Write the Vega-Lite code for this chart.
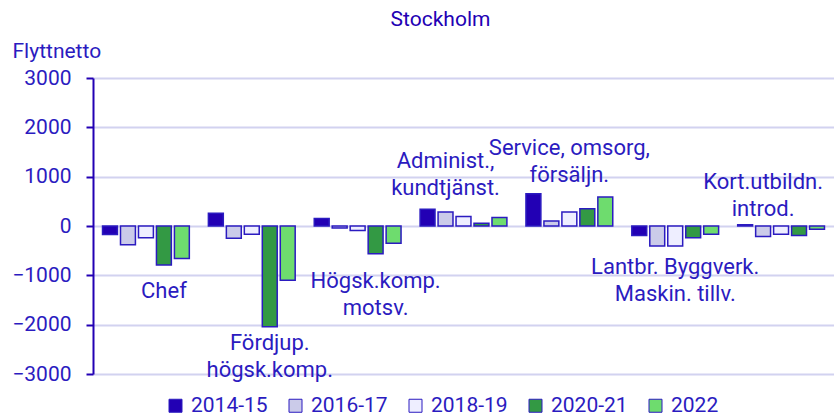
{
  "$schema": "https://vega.github.io/schema/vega-lite/v6.json",
  "width": 741,
  "height": 296,
  "autosize": {"type": "none"},
  "padding": {"left": 93, "top": 78, "right": 0, "bottom": 42},
  "background": "white",
  "config": {"view": {"stroke": null}, "font": "Roboto"},
  "title": {"text": "Stockholm", "font": "Roboto", "fontSize": 21, "fontWeight": "normal", "color": "#2200b4", "anchor": "middle", "dx": -23, "offset": 10},
  "datasets": {
    "bars": [
      {"cat": "Chef", "period": "2014-15", "value": -170},
      {"cat": "Chef", "period": "2016-17", "value": -380},
      {"cat": "Chef", "period": "2018-19", "value": -240},
      {"cat": "Chef", "period": "2020-21", "value": -790},
      {"cat": "Chef", "period": "2022", "value": -660},
      {"cat": "Fördjup. högsk.komp.", "period": "2014-15", "value": 260},
      {"cat": "Fördjup. högsk.komp.", "period": "2016-17", "value": -250},
      {"cat": "Fördjup. högsk.komp.", "period": "2018-19", "value": -165},
      {"cat": "Fördjup. högsk.komp.", "period": "2020-21", "value": -2040},
      {"cat": "Fördjup. högsk.komp.", "period": "2022", "value": -1100},
      {"cat": "Högsk.komp. motsv.", "period": "2014-15", "value": 150},
      {"cat": "Högsk.komp. motsv.", "period": "2016-17", "value": -40},
      {"cat": "Högsk.komp. motsv.", "period": "2018-19", "value": -90},
      {"cat": "Högsk.komp. motsv.", "period": "2020-21", "value": -560},
      {"cat": "Högsk.komp. motsv.", "period": "2022", "value": -350},
      {"cat": "Administ., kundtjänst.", "period": "2014-15", "value": 340},
      {"cat": "Administ., kundtjänst.", "period": "2016-17", "value": 285},
      {"cat": "Administ., kundtjänst.", "period": "2018-19", "value": 195},
      {"cat": "Administ., kundtjänst.", "period": "2020-21", "value": 55},
      {"cat": "Administ., kundtjänst.", "period": "2022", "value": 170},
      {"cat": "Service, omsorg, försäljn.", "period": "2014-15", "value": 655},
      {"cat": "Service, omsorg, försäljn.", "period": "2016-17", "value": 100},
      {"cat": "Service, omsorg, försäljn.", "period": "2018-19", "value": 285},
      {"cat": "Service, omsorg, försäljn.", "period": "2020-21", "value": 350},
      {"cat": "Service, omsorg, försäljn.", "period": "2022", "value": 590},
      {"cat": "Lantbr. Byggverk. Maskin. tillv.", "period": "2014-15", "value": -195},
      {"cat": "Lantbr. Byggverk. Maskin. tillv.", "period": "2016-17", "value": -405},
      {"cat": "Lantbr. Byggverk. Maskin. tillv.", "period": "2018-19", "value": -405},
      {"cat": "Lantbr. Byggverk. Maskin. tillv.", "period": "2020-21", "value": -240},
      {"cat": "Lantbr. Byggverk. Maskin. tillv.", "period": "2022", "value": -165},
      {"cat": "Kort.utbildn. introd.", "period": "2014-15", "value": 25},
      {"cat": "Kort.utbildn. introd.", "period": "2016-17", "value": -215},
      {"cat": "Kort.utbildn. introd.", "period": "2018-19", "value": -165},
      {"cat": "Kort.utbildn. introd.", "period": "2020-21", "value": -195},
      {"cat": "Kort.utbildn. introd.", "period": "2022", "value": -68}
    ],
    "labels": [
      {"cat": "Chef", "period": "2020-21", "value": -1318, "label": "Chef"},
      {"cat": "Fördjup. högsk.komp.", "period": "2020-21", "value": -2370, "label": "Fördjup.\nhögsk.komp."},
      {"cat": "Högsk.komp. motsv.", "period": "2020-21", "value": -1115, "label": "Högsk.komp.\nmotsv."},
      {"cat": "Administ., kundtjänst.", "period": "2016-17", "value": 1320, "label": "Administ.,\nkundtjänst."},
      {"cat": "Service, omsorg, försäljn.", "period": "2018-19", "value": 1575, "label": "Service, omsorg,\nförsäljn."},
      {"cat": "Lantbr. Byggverk. Maskin. tillv.", "period": "2018-19", "value": -840, "label": "Lantbr. Byggverk.\nMaskin. tillv."},
      {"cat": "Kort.utbildn. introd.", "period": "2016-17", "value": 895, "label": "Kort.utbildn.\nintrod."}
    ]
  },
  "layer": [
    {
      "data": {"name": "bars"},
      "mark": {"type": "bar", "stroke": "#2b1bc0", "strokeWidth": 1.5},
      "encoding": {
        "x": {"field": "cat", "type": "nominal", "sort": null, "scale": {"paddingInner": 0.18, "paddingOuter": 0.09}, "axis": null},
        "xOffset": {"field": "period", "type": "nominal", "sort": null, "scale": {"paddingInner": 0.17, "paddingOuter": 0}},
        "y": {
          "field": "value", "type": "quantitative",
          "scale": {"domain": [-3000, 3000], "nice": false},
          "axis": {
            "values": [-3000, -2000, -1000, 0, 1000, 2000, 3000],
            "format": "d",
            "grid": true, "gridColor": "#d2d2f0", "gridWidth": 2,
            "domainColor": "#2200b4", "domainWidth": 2,
            "tickColor": "#2200b4", "tickWidth": 2, "tickSize": 7,
            "labelFont": "Roboto", "labelFontSize": 21, "labelColor": "#2b1bc0", "labelPadding": 15,
            "title": "Flyttnetto", "titleAngle": 0, "titleAlign": "left", "titleBaseline": "alphabetic",
            "titleX": -81, "titleY": -21, "titleFont": "Roboto", "titleFontSize": 21, "titleFontWeight": "normal", "titleColor": "#2b1bc0"
          }
        },
        "color": {
          "field": "period", "type": "nominal", "sort": null,
          "scale": {"domain": ["2014-15", "2016-17", "2018-19", "2020-21", "2022"], "range": ["#2200b4", "#cbcbe9", "#eeeeff", "#339944", "#6edc6e"]},
          "legend": {
            "orient": "none", "legendX": 72, "legendY": 317, "direction": "horizontal", "title": null,
            "symbolType": "square", "symbolSize": 169, "symbolStrokeColor": "#2b1bc0", "symbolStrokeWidth": 1, "symbolOpacity": 1,
            "labelFont": "Roboto", "labelFontSize": 21, "labelColor": "#2b1bc0", "labelOffset": 5, "columnPadding": 17
          }
        }
      }
    },
    {
      "data": {"name": "labels"},
      "mark": {"type": "text", "lineBreak": "\n", "font": "Roboto", "fontSize": 22, "color": "#2b1bc0", "lineHeight": 27, "baseline": "middle", "align": "center"},
      "encoding": {
        "x": {"field": "cat", "type": "nominal", "sort": null},
        "xOffset": {"field": "period", "type": "nominal", "sort": null},
        "y": {"field": "value", "type": "quantitative"},
        "text": {"field": "label", "type": "nominal"}
      }
    }
  ]
}
